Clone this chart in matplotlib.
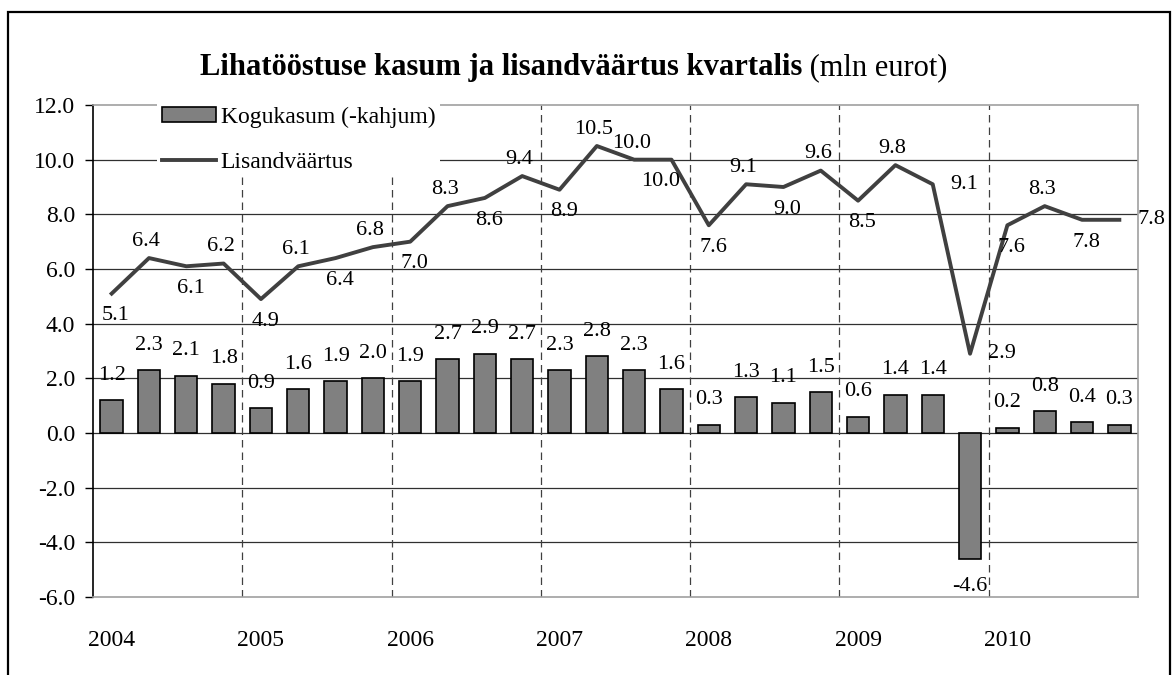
import numpy as np
import matplotlib
matplotlib.use('Agg')
import matplotlib.pyplot as plt
from matplotlib.patches import Rectangle

plt.rcParams['font.family'] = ['Liberation Serif', 'DejaVu Serif']

# andmed (mln eurot), kvartalid 2004 I - 2010 IV
years = ['2004', '2005', '2006', '2007', '2008', '2009', '2010']
kasum = [1.2, 2.3, 2.1, 1.8, 0.9, 1.6, 1.9, 2.0, 1.9, 2.7, 2.9, 2.7, 2.3, 2.8,
         2.3, 1.6, 0.3, 1.3, 1.1, 1.5, 0.6, 1.4, 1.4, -4.6, 0.2, 0.8, 0.4, 0.3]
lisand = [5.1, 6.4, 6.1, 6.2, 4.9, 6.1, 6.4, 6.8, 7.0, 8.3, 8.6, 9.4, 8.9, 10.5,
          10.0, 10.0, 7.6, 9.1, 9.0, 9.6, 8.5, 9.8, 9.1, 2.9, 7.6, 8.3, 7.8, 7.8]
# sildi asukoht joonel: a = ules, b = alla, r = paremale, l = alla vasakule
lisand_pos = ['b', 'a', 'b', 'a', 'b', 'a', 'b', 'a', 'b', 'a', 'b', 'a', 'b', 'a',
              'a', 'l', 'b', 'a', 'b', 'a', 'b', 'a', 'r', 'r', 'b', 'a', 'b', 'r']

x = np.arange(len(kasum))

fig = plt.figure(figsize=(11.76, 6.75), dpi=100)
ax = fig.add_axes([93 / 1176, 78 / 675, 1045 / 1176, 492 / 675])

# ruudustik
for yv in [-4, -2, 0, 2, 4, 6, 8, 10]:
    ax.axhline(yv, color='#303030', lw=0.9, zorder=1)
# aastate piirid
for k in range(1, len(years)):
    ax.axvline(4 * k - 0.5, color='#404040', lw=0.9, dashes=(6, 4), zorder=1)

ax.bar(x, kasum, width=0.6, color='#808080', edgecolor='black', lw=1.2,
       zorder=3, label='Kogukasum (-kahjum)')
ax.plot(x, lisand, color='#404040', lw=2.8, zorder=4, label='Lisandväärtus')

# väärtuste sildid
for xi, v in zip(x, kasum):
    off = 18 if v >= 0 else -20
    ax.annotate(f'{v:.1f}', (xi, v), xytext=(0, off), textcoords='offset points',
                ha='center', va='center', fontsize=16, zorder=5)
offsets = {'a': (-2, 12), 'b': (3, -16), 'r': (23, 0), 'l': (-8, -16)}
for xi, v, p in zip(x, lisand, lisand_pos):
    ax.annotate(f'{v:.1f}', (xi, v), xytext=offsets[p], textcoords='offset points',
                ha='center', va='center', fontsize=16, zorder=5)

ax.set_xlim(-0.5, len(kasum) - 0.5)
ax.set_ylim(-6, 12)
ax.set_yticks(np.arange(-6, 13, 2))
ax.set_yticklabels([f'{t:.1f}' for t in np.arange(-6, 13, 2)])
ax.set_xticks(np.arange(0, len(kasum), 4))
ax.set_xticklabels(years)
ax.tick_params(axis='x', length=0, pad=24, labelsize=17)
ax.tick_params(axis='y', length=6, width=1, pad=7, labelsize=17, direction='out')

for s in ['top', 'right', 'bottom']:
    ax.spines[s].set_color('#a0a0a0')
    ax.spines[s].set_linewidth(1.2)
ax.spines['left'].set_color('black')
ax.spines['left'].set_linewidth(1.2)

h, l = ax.get_legend_handles_labels()
leg = ax.legend(h[::-1], l[::-1], loc='upper left', bbox_to_anchor=(0.05, 1.03),
                fontsize=17, frameon=True, fancybox=False, edgecolor='none',
                framealpha=1, handlelength=2.3, handleheight=0.6, labelspacing=1.0,
                borderpad=0.2, handletextpad=0.2)
leg.set_zorder(6)

# pealkiri
t1 = fig.text(200 / 1176, 1 - 68 / 675, 'Lihatööstuse kasum ja lisandväärtus kvartalis',
              fontsize=22, fontweight='bold', ha='left', va='center')
ax.annotate(' (mln eurot)', xy=(1, 0.5), xycoords=t1, ha='left', va='center',
            fontsize=22, annotation_clip=False)

# raam ümber joonise
fig.patches.append(Rectangle((8 / 1176, -0.05), 1162 / 1176, 1.05 - 12 / 675,
                             transform=fig.transFigure, fill=False,
                             edgecolor='black', lw=1.6))

fig.savefig('out.png', dpi=100)
